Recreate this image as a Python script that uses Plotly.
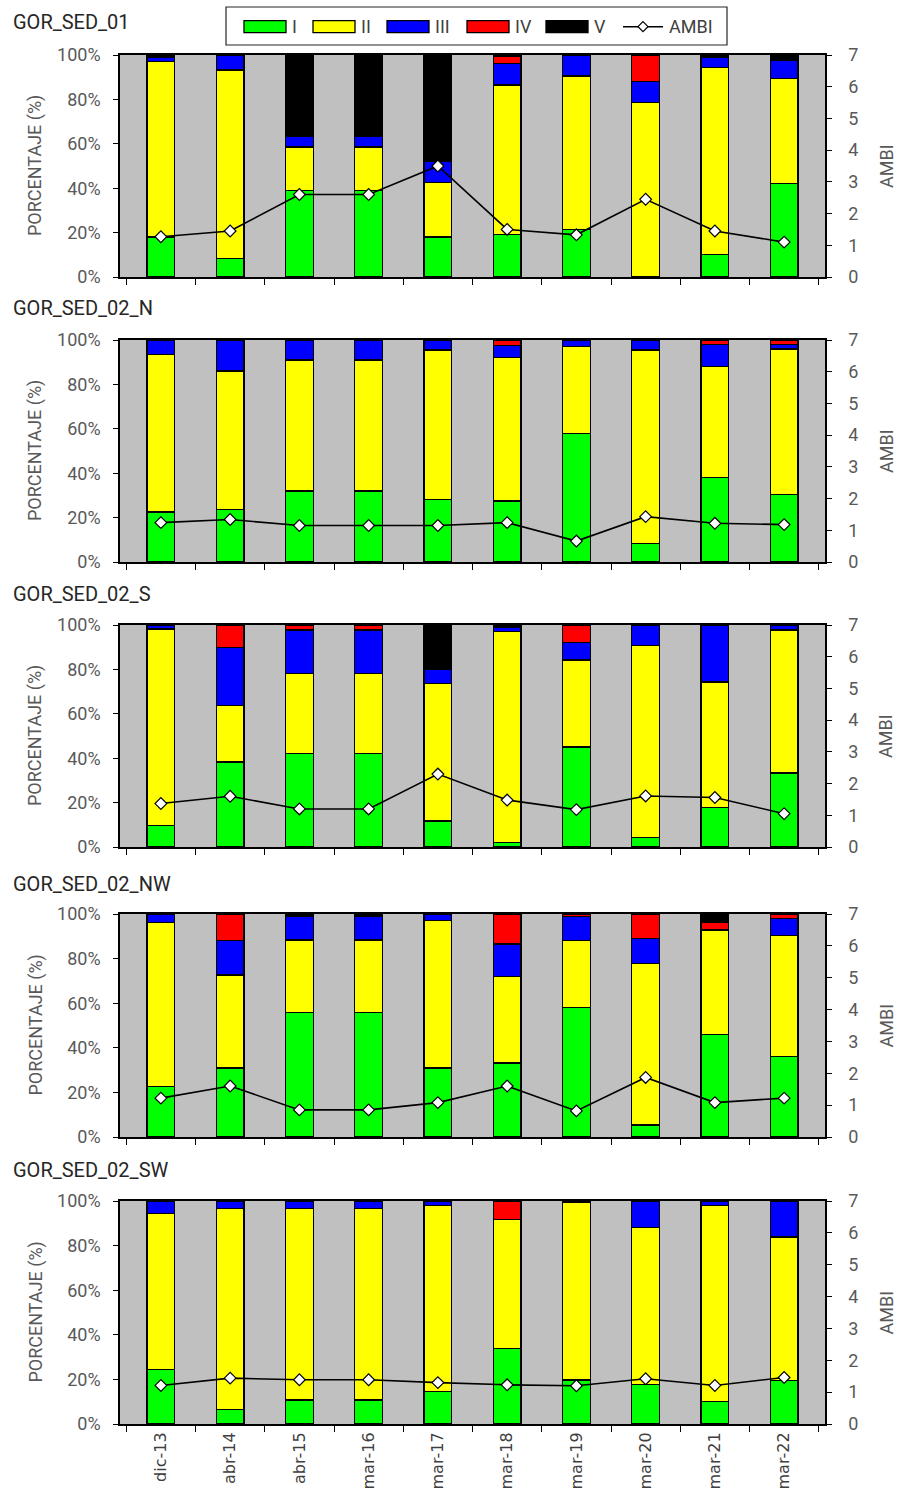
import plotly.graph_objects as go

W, H = 898, 1499

categories = ["dic-13", "abr-14", "abr-15", "mar-16", "mar-17",
              "mar-18", "mar-19", "mar-20", "mar-21", "mar-22"]
stations = ["GOR_SED_01", "GOR_SED_02_N", "GOR_SED_02_S", "GOR_SED_02_NW", "GOR_SED_02_SW"]
group_names = ["I", "II", "III", "IV", "V"]
group_colors = ["#00FF00", "#FFFF00", "#0000FF", "#FF0000", "#000000"]
pct_ticks = [0, 20, 40, 60, 80, 100]
pct_labels = ["0%", "20%", "40%", "60%", "80%", "100%"]
ambi_ticks = [0, 1, 2, 3, 4, 5, 6, 7]

# GOR_SED_01
s01_I = [18, 8.3, 39, 39, 18, 19, 21.5, 0, 10, 42]
s01_II = [79, 85, 19.5, 19.5, 24.5, 67.5, 69, 78.5, 84.5, 47.5]
s01_III = [2, 6.7, 5, 5, 9.5, 9.7, 9.5, 9.5, 4.5, 8]
s01_IV = [0, 0, 0, 0, 0, 3, 0, 12, 0, 0]
s01_V = [1, 0, 36.5, 36.5, 48, 0.8, 0, 0, 1, 2.5]
s01_AMBI = [1.27, 1.45, 2.6, 2.6, 3.5, 1.5, 1.33, 2.45, 1.45, 1.1]

# GOR_SED_02_N
s02n_I = [22.5, 23.5, 32, 32, 28, 27.5, 58, 8.2, 38, 30.3]
s02n_II = [71, 62.5, 59, 59, 67.5, 64.5, 39, 87.3, 50, 65.7]
s02n_III = [6.5, 14, 9, 9, 4.5, 5.5, 3, 4.5, 10, 2]
s02n_IV = [0, 0, 0, 0, 0, 2.5, 0, 0, 2, 2]
s02n_V = [0, 0, 0, 0, 0, 0, 0, 0, 0, 0]
s02n_AMBI = [1.24, 1.34, 1.15, 1.15, 1.15, 1.24, 0.66, 1.43, 1.22, 1.18]

# GOR_SED_02_S
s02s_I = [9.6, 38.3, 42, 42, 11.7, 1.9, 45, 4.3, 17.8, 33.4]
s02s_II = [88.6, 25.5, 36.3, 36.3, 62.1, 95.1, 39.3, 86.4, 56.5, 64.4]
s02s_III = [1.8, 26.2, 19.5, 19.5, 6.2, 2, 7.9, 9.3, 25.7, 2.2]
s02s_IV = [0, 10, 2.2, 2.2, 0, 0, 7.8, 0, 0, 0]
s02s_V = [0, 0, 0, 0, 20, 1, 0, 0, 0, 0]
s02s_AMBI = [1.37, 1.6, 1.2, 1.2, 2.3, 1.48, 1.18, 1.61, 1.56, 1.05]

# GOR_SED_02_NW
s02nw_I = [22.7, 31, 55.7, 55.7, 30.9, 33.2, 58, 5.4, 46, 36]
s02nw_II = [73.4, 41.7, 32.6, 32.6, 66.1, 38.8, 30, 72.4, 46.5, 54.5]
s02nw_III = [3.9, 15.3, 10.7, 10.7, 3, 14.5, 10.8, 11.2, 0.7, 7.5]
s02nw_IV = [0, 12, 0, 0, 0, 13.5, 1.2, 11, 3, 2]
s02nw_V = [0, 0, 1, 1, 0, 0, 0, 0, 3.8, 0]
s02nw_AMBI = [1.22, 1.6, 0.85, 0.85, 1.08, 1.6, 0.82, 1.87, 1.08, 1.22]

# GOR_SED_02_SW
s02sw_I = [24.3, 6.6, 10.8, 10.8, 14.7, 34, 19.8, 17.8, 10, 19.5]
s02sw_II = [70, 90, 85.8, 85.8, 83.3, 57.8, 79.4, 70.2, 88, 64.3]
s02sw_III = [5.7, 3.4, 3.4, 3.4, 2, 0, 0.8, 12, 2, 16.2]
s02sw_IV = [0, 0, 0, 0, 0, 8.2, 0, 0, 0, 0]
s02sw_V = [0, 0, 0, 0, 0, 0, 0, 0, 0, 0]
s02sw_AMBI = [1.21, 1.44, 1.39, 1.39, 1.3, 1.23, 1.2, 1.42, 1.21, 1.46]

panel_groups = [
    [s01_I, s01_II, s01_III, s01_IV, s01_V],
    [s02n_I, s02n_II, s02n_III, s02n_IV, s02n_V],
    [s02s_I, s02s_II, s02s_III, s02s_IV, s02s_V],
    [s02nw_I, s02nw_II, s02nw_III, s02nw_IV, s02nw_V],
    [s02sw_I, s02sw_II, s02sw_III, s02sw_IV, s02sw_V],
]
panel_ambi = [s01_AMBI, s02n_AMBI, s02s_AMBI, s02nw_AMBI, s02sw_AMBI]

# pixel layout (top, bottom) of each plot area
panel_px = [(55, 277), (340, 562), (625, 847), (914, 1137), (1201, 1424)]
title_px = [22, 308, 594, 884, 1170]
x_left, x_right = 120, 825

FONT = "Roboto, Open Sans, sans-serif"
GRAY = "#595959"


def px(x):
    return x / W


def py(y):
    return 1 - y / H


fig = go.Figure()
layout = dict(
    width=W, height=H,
    margin=dict(l=0, r=0, t=0, b=0, autoexpand=False),
    paper_bgcolor="white",
    plot_bgcolor="#C0C0C0",
    barmode="stack",
    showlegend=False,
    annotations=[],
    shapes=[],
)

for k in range(5):
    xa = "x" if k == 0 else f"x{k + 1}"
    ya = f"y{2 * k + 1}" if k > 0 else "y"
    ya2 = f"y{2 * k + 2}"
    groups = panel_groups[k]
    for g in range(5):
        fig.add_trace(go.Bar(
            x=categories, y=groups[g], name=group_names[g],
            marker=dict(color=group_colors[g], line=dict(color="black", width=1.3)),
            width=0.4, xaxis=xa, yaxis=ya, legendgroup=group_names[g],
        ))
    fig.add_trace(go.Scatter(
        x=categories, y=panel_ambi[k], name="AMBI", mode="lines+markers",
        line=dict(color="black", width=1.6),
        marker=dict(symbol="diamond", size=9, color="white", line=dict(color="black", width=1.2)),
        xaxis=xa, yaxis=ya2, legendgroup="AMBI",
    ))

    top, bot = panel_px[k]
    ydom = [py(bot), py(top)]
    xkey = "xaxis" if k == 0 else f"xaxis{k + 1}"
    ykey = "yaxis" if k == 0 else f"yaxis{2 * k + 1}"
    y2key = f"yaxis{2 * k + 2}"
    layout[xkey] = dict(
        domain=[px(x_left), px(x_right)], anchor=ya, type="category",
        categoryorder="array", categoryarray=categories, automargin=False,
        tickson="boundaries", ticks="outside", ticklen=6, tickcolor="black", tickwidth=1.3,
        showline=True, linecolor="black", linewidth=2, mirror=True,
        showgrid=False, zeroline=False,
        showticklabels=(k == 4), tickangle=-90,
        tickfont=dict(family="DejaVu Sans", size=16, color="#404040"),
    )
    layout[ykey] = dict(
        domain=ydom, anchor=xa, range=[0, 100], automargin=False,
        tickvals=pct_ticks, ticktext=pct_labels,
        ticks="outside", ticklen=5, tickcolor="black", tickwidth=1.3,
        showline=True, linecolor="black", linewidth=1.5,
        showgrid=False, zeroline=False, ticklabelstandoff=9,
        tickfont=dict(family=FONT, size=18, color=GRAY),
    )
    layout[y2key] = dict(
        domain=ydom, anchor=xa, overlaying=ya, side="right", range=[0, 7], automargin=False,
        tickvals=ambi_ticks, ticks="outside", ticklen=5, tickcolor="black", tickwidth=1.3,
        showline=True, linecolor="black", linewidth=1.5,
        showgrid=False, zeroline=False, ticklabelstandoff=13,
        tickfont=dict(family=FONT, size=18, color=GRAY),
    )
    mid = 1 - (top + bot) / 2 / H
    layout["annotations"] += [
        dict(text=stations[k], xref="paper", yref="paper", x=px(11), y=py(title_px[k]),
             xanchor="left", yanchor="middle", showarrow=False,
             font=dict(family=FONT, size=20, color="#262626")),
        dict(text="PORCENTAJE (%)", xref="paper", yref="paper", x=px(35), y=mid,
             xanchor="center", yanchor="middle", textangle=-90, showarrow=False,
             font=dict(family=FONT, size=18, color=GRAY)),
        dict(text="AMBI", xref="paper", yref="paper", x=px(886), y=mid,
             xanchor="center", yanchor="middle", textangle=-90, showarrow=False,
             font=dict(family=FONT, size=18, color=GRAY)),
    ]

# ---- legend (drawn in paper coordinates) ----
leg_box = (226, 7, 727, 45)
leg_cy = 26.7
sw_x0 = [244, 313, 387, 467, 546]
sw_w, sw_h = 42, 12
layout["shapes"].append(dict(
    type="rect", xref="paper", yref="paper",
    x0=px(leg_box[0]), x1=px(leg_box[2]), y0=py(leg_box[3]), y1=py(leg_box[1]),
    line=dict(color="#262626", width=1.2), fillcolor="white", layer="above"))
for g in range(5):
    layout["shapes"].append(dict(
        type="rect", xref="paper", yref="paper",
        x0=px(sw_x0[g]), x1=px(sw_x0[g] + sw_w),
        y0=py(leg_cy + sw_h / 2), y1=py(leg_cy - sw_h / 2),
        line=dict(color="black", width=1.3), fillcolor=group_colors[g], layer="above"))
    layout["annotations"].append(dict(
        text=group_names[g], xref="paper", yref="paper", x=px(sw_x0[g] + sw_w + 4), y=py(leg_cy),
        xanchor="left", yanchor="middle", showarrow=False,
        font=dict(family=FONT, size=18, color="#404040")))
# AMBI line sample
layout["shapes"].append(dict(
    type="line", xref="paper", yref="paper",
    x0=px(623), x1=px(663), y0=py(leg_cy), y1=py(leg_cy),
    line=dict(color="black", width=1.6), layer="above"))
dcx, dcy, dr = 643, leg_cy, 5
layout["shapes"].append(dict(
    type="path", xref="paper", yref="paper",
    path=(f"M {px(dcx - dr)} {py(dcy)} L {px(dcx)} {py(dcy - dr)} "
          f"L {px(dcx + dr)} {py(dcy)} L {px(dcx)} {py(dcy + dr)} Z"),
    line=dict(color="black", width=1.2), fillcolor="white", layer="above"))
layout["annotations"].append(dict(
    text="AMBI", xref="paper", yref="paper", x=px(667), y=py(leg_cy),
    xanchor="left", yanchor="middle", showarrow=False,
    font=dict(family=FONT, size=18, color="#404040")))

fig.update_layout(**layout)
fig.write_html("out.html")
